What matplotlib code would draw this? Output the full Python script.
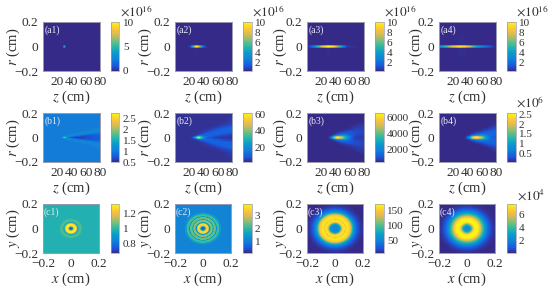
import matplotlib
matplotlib.use('Agg')

import numpy as np
import matplotlib.pyplot as plt
from matplotlib.cm import ScalarMappable
from matplotlib.colors import LinearSegmentedColormap, Normalize

plt.rcParams['font.family'] = ['Liberation Serif', 'DejaVu Serif']
plt.rcParams['mathtext.fontset'] = 'stix'

# a row: on-axis nodes, values in units of 1e16
a1_z = [0, 28.8, 30, 31.2, 80]
a1_r = [0, .005, .011, .2]
a1_v = [[0, 0, 4.5, 0, 0],
        [0, 0, 2.5, 0, 0],
        [0, 0, 0, 0, 0],
        [0, 0, 0, 0, 0]]

a2_z = [0, 18, 22, 26, 30, 34, 38, 42, 46, 80]
a2_r = [0, .004, .008, .012, .2]
a2_v = [[.3, .3, 1, 5, 9.8, 7, 3, .8, .3, .3],
        [.3, .3, .8, 3.5, 6.5, 4.5, 2, .6, .3, .3],
        [.3, .3, .4, 1, 1.8, 1.3, .7, .3, .3, .3],
        [.3, .3, .3, .3, .4, .3, .3, .3, .3, .3],
        [.3, .3, .3, .3, .3, .3, .3, .3, .3, .3]]

a3_z = [0, 3, 10, 16, 22, 30, 38, 44, 50, 56, 80]
a3_r = [0, .004, .008, .012, .2]
a3_v = [[.3, .6, 2.5, 5, 8, 10, 9, 6, 3, .6, .3],
        [.3, .5, 1.8, 3.5, 5.5, 7, 6, 4, 2, .5, .3],
        [.3, .3, .6, 1, 1.6, 2, 1.7, 1.1, .6, .3, .3],
        [.3, .3, .3, .3, .3, .4, .3, .3, .3, .3, .3],
        [.3, .3, .3, .3, .3, .3, .3, .3, .3, .3, .3]]

a4_z = [0, 6, 12, 20, 28, 36, 44, 52, 60, 70, 78, 80]
a4_r = [0, .004, .008, .012, .2]
a4_v = [[3, 4, 6, 8, 9.5, 9, 7, 4, 2.5, 1.5, .5, .3],
        [2, 2.8, 4, 5.6, 6.6, 6.2, 4.8, 2.8, 1.8, 1, .4, .3],
        [.6, .8, 1.2, 1.6, 1.9, 1.8, 1.4, .9, .6, .4, .3, .3],
        [.3, .3, .3, .3, .4, .4, .3, .3, .3, .3, .3, .3],
        [.3, .3, .3, .3, .3, .3, .3, .3, .3, .3, .3, .3]]

# b row
b1_z = [0, 27, 30, 32, 36, 45, 55, 65, 80]
b1_r = [0, .004, .008, .014, .02, .03, .04, .05, .065, .08, .2]
b1_v = [[1, 1, 1.9, 1.5, .75, .6, .6, .7, .8],
        [1, 1, 1.4, 1.3, .85, .62, .6, .7, .8],
        [1, 1, 1.05, 1.25, 1, .7, .62, .7, .8],
        [1, 1, 1, 1.05, 1.2, .85, .68, .72, .8],
        [1, 1, 1, 1, 1.1, 1.1, .8, .75, .8],
        [1, 1, 1, 1, 1, 1.1, 1.15, .9, .85],
        [1, 1, 1, 1, 1, 1, 1.1, 1.15, .95],
        [1, 1, 1, 1, 1, 1, 1, 1.1, 1.1],
        [1, 1, 1, 1, 1, 1, 1, 1, 1.2],
        [1, 1, 1, 1, 1, 1, 1, 1, 1.05],
        [1, 1, 1, 1, 1, 1, 1, 1, 1]]

b2_z = [0, 22, 26, 30, 33, 36, 40, 46, 54, 64, 80]
b2_r = [0, .005, .01, .016, .024, .035, .05, .07, .09, .12, .2]
b2_v = [[3, 3, 8, 30, 58, 38, 18, 8, 5, 4, 3],
        [3, 3, 5, 18, 35, 28, 16, 9, 6, 4, 3],
        [3, 3, 3, 7, 16, 18, 13, 10, 7, 5, 4],
        [3, 3, 3, 4, 7, 10, 10, 10, 8, 6, 4],
        [3, 3, 3, 3, 4, 6, 8, 11, 10, 7, 5],
        [3, 3, 3, 3, 3, 4, 5, 8, 11, 10, 7],
        [3, 3, 3, 3, 3, 3, 4, 5, 8, 11, 10],
        [3, 3, 3, 3, 3, 3, 3, 4, 5, 8, 12],
        [3, 3, 3, 3, 3, 3, 3, 3, 3, 5, 8],
        [3, 3, 3, 3, 3, 3, 3, 3, 3, 3, 5],
        [3, 3, 3, 3, 3, 3, 3, 3, 3, 3, 3]]

b3_z = [0, 30, 34, 38, 43, 48, 54, 60, 66, 72, 80]
b3_r = [0, .006, .012, .02, .03, .045, .06, .08, .1, .13, .2]
b3_v = [[400, 400, 1200, 4000, 6300, 5000, 3000, 1500, 700, 600, 600],
        [400, 400, 800, 2800, 4800, 4200, 2800, 1400, 750, 650, 600],
        [400, 400, 500, 1200, 2600, 2800, 2300, 1300, 800, 700, 650],
        [400, 400, 400, 600, 1300, 1700, 1700, 1200, 850, 750, 700],
        [400, 400, 400, 450, 700, 1000, 1200, 1100, 900, 800, 750],
        [400, 400, 400, 400, 450, 600, 800, 950, 900, 850, 800],
        [400, 400, 400, 400, 400, 400, 500, 600, 750, 800, 800],
        [400, 400, 400, 400, 400, 400, 400, 450, 550, 650, 750],
        [400, 400, 400, 400, 400, 400, 400, 400, 450, 550, 650],
        [400, 400, 400, 400, 400, 400, 400, 400, 400, 400, 450],
        [400, 400, 400, 400, 400, 400, 400, 400, 400, 400, 400]]

b4_z = [0, 34, 38, 43, 48, 53, 59, 65, 71, 76, 80]
b4_r = [0, .006, .012, .02, .03, .045, .06, .08, .1, .13, .2]
b4_v = [[.03, .03, .1, .8, 2.2, 2.55, 1.9, 1, .4, .3, .3],
        [.03, .03, .07, .5, 1.6, 2, 1.6, .9, .42, .32, .3],
        [.03, .03, .04, .2, .8, 1.1, 1.05, .75, .45, .35, .32],
        [.03, .03, .03, .08, .35, .55, .65, .6, .42, .38, .35],
        [.03, .03, .03, .03, .12, .25, .38, .45, .42, .4, .38],
        [.03, .03, .03, .03, .03, .08, .16, .28, .35, .38, .38],
        [.03, .03, .03, .03, .03, .03, .06, .12, .2, .26, .3],
        [.03, .03, .03, .03, .03, .03, .03, .04, .08, .14, .2],
        [.03, .03, .03, .03, .03, .03, .03, .03, .04, .06, .1],
        [.03, .03, .03, .03, .03, .03, .03, .03, .03, .03, .04],
        [.03, .03, .03, .03, .03, .03, .03, .03, .03, .03, .03]]

# c row: radial profiles
c1_r = [0, .008, .016, .024, .03, .036, .042, .05, .058, .066, .08, .29]
c1_v = [.72, .74, .9, 1.22, 1.3, 1.2, 1, .88, .98, 1.04, .98, .98]

c2_r = [0, .01, .018, .026, .032, .038, .044, .05, .056, .062, .068, .074, .08,
        .086, .092, .098, .104, .11, .116, .122, .13, .29]
c2_v = [.5, .6, 1.2, 3, 3.6, 2.8, 1, .6, 2, 2.6, 1.6, .8, 2.1,
        2.4, 1.2, .9, 2, 2.2, 1.1, 1.6, 1.1, 1.1]

c3_r = [0, .02, .035, .045, .055, .065, .072, .08, .09, .105, .115, .125, .14, .16, .18, .2, .29]
c3_v = [52, 52, 60, 90, 145, 160, 105, 155, 160, 145, 110, 75, 45, 22, 12, 8, 7]

c4_r = [0, .015, .03, .04, .05, .06, .07, .08, .09, .1, .12, .14, .16, .18, .2, .29]
c4_v = [2.2, 2.3, 3.2, 4.6, 6.5, 7.4, 7.4, 7, 6.2, 5, 3.2, 1.8, .9, .45, .25, .2]

cbar_ticks = {
    'a1': [0, 5, 10], 'a2': [2, 4, 6, 8, 10], 'a3': [2, 4, 6, 8, 10], 'a4': [2, 4, 6, 8, 10],
    'b1': [.5, 1, 1.5, 2, 2.5], 'b2': [20, 40, 60], 'b3': [2000, 4000, 6000], 'b4': [.5, 1, 1.5, 2, 2.5],
    'c1': [.8, 1, 1.2], 'c2': [1, 2, 3], 'c3': [50, 100, 150], 'c4': [2, 4, 6],
}
cbar_range = {
    'a1': (0, 10), 'a2': (.3, 10), 'a3': (.3, 10), 'a4': (.3, 10),
    'b1': (.5, 2.77), 'b2': (2, 62), 'b3': (400, 6500), 'b4': (.03, 2.6),
    'c1': (.68, 1.32), 'c2': (.15, 3.9), 'c3': (7, 170), 'c4': (.2, 7.5),
}
multipliers = {
    'a1': (120, 17, '16'), 'a2': (252, 17, '16'), 'a3': (384, 17, '16'), 'a4': (516, 17, '16'),
    'b4': (516, 108, '6'), 'c4': (517, 200, '4'),
}

parula = LinearSegmentedColormap.from_list('parula', [
    (0, (.208, .166, .529)), (.1, (.12, .33, .86)), (.16, (.05, .42, .88)),
    (.24, (.08, .50, .84)), (.37, (.03, .61, .81)), (.5, (.17, .72, .65)),
    (.63, (.5, .75, .47)), (.75, (.85, .73, .33)), (.87, (.99, .78, .22)),
    (1, (.976, .983, .054))])

W, H = 550., 290.
text_color = '#303030'
edge_color = '#9a9ab0'
col_x = {'1': 43, '2': 175, '3': 307, '4': 439}
cbar_x = {'1': 111, '2': 243, '3': 375, '4': 507}
row_y = {'a': (22, 71), 'b': (113, 162), 'c': (204, 253)}
ylabel_x = {'1': 13, '2': 145, '3': 280, '4': 416}


def px_axes(fig, x0, y0, x1, y1):
    return fig.add_axes([x0 / W, 1 - y1 / H, (x1 - x0) / W, (y1 - y0) / H])


def mirror(r, table):
    r = np.array(r)
    table = np.array(table)
    return np.r_[-r[::-1], r[1:]], np.vstack([table[::-1], table[1:]])


def radial(r, v):
    theta = np.radians(np.arange(0, 361, 3))
    rr, tt = np.meshgrid(r, theta)
    return rr * np.cos(tt), rr * np.sin(tt), np.tile(v, (len(theta), 1))


fig = plt.figure(figsize=(W / 100, H / 100), dpi=100)

panels = {
    'a1': (a1_z, a1_r, a1_v), 'a2': (a2_z, a2_r, a2_v), 'a3': (a3_z, a3_r, a3_v), 'a4': (a4_z, a4_r, a4_v),
    'b1': (b1_z, b1_r, b1_v), 'b2': (b2_z, b2_r, b2_v), 'b3': (b3_z, b3_r, b3_v), 'b4': (b4_z, b4_r, b4_v),
    'c1': (c1_r, c1_v), 'c2': (c2_r, c2_v), 'c3': (c3_r, c3_v), 'c4': (c4_r, c4_v),
}

for name, data in panels.items():
    row, col = name[0], name[1]
    y0, y1 = row_y[row]
    x0 = col_x[col]
    ax = px_axes(fig, x0, y0, x0 + (56 if row == 'c' else 57), y1)
    vmin, vmax = cbar_range[name]
    levels = np.linspace(vmin, vmax, 160)

    if row == 'c':
        X, Y, Z = radial(*data)
        ax.contourf(X, Y, Z, levels=levels, cmap=parula, extend='both')
        ax.set_xlim(-.2, .2)
        ax.set_xticks([-.2, 0, .2])
        ax.set_xticklabels([u'\u22120.2', '0', '0.2'])
        xlabel, ylabel = r'$x$ (cm)', r'$y$ (cm)'
    else:
        r, Z = mirror(data[1], data[2])
        ax.contourf(data[0], r, Z, levels=levels, cmap=parula, extend='both')
        ax.set_xlim(0, 80)
        ax.set_xticks([20, 40, 60, 80])
        xlabel, ylabel = r'$z$ (cm)', r'$r$ (cm)'

    ax.set_ylim(-.2, .2)
    ax.set_yticks([-.2, 0, .2])
    ax.set_yticklabels([u'\u22120.2', '0', '0.2'])
    ax.tick_params(length=0, labelsize=9.6, colors=text_color, pad=3.5)
    for s in ax.spines.values():
        s.set_color(edge_color)
        s.set_linewidth(.7)

    fig.text((x0 + 28) / W, 1 - (y1 + 26) / H, xlabel, ha='center', va='center', fontsize=10.5, color=text_color)
    fig.text(ylabel_x[col] / W, 1 - (y0 + y1) / 2. / H, ylabel, ha='center', va='center',
             rotation=90, fontsize=10.5, color=text_color)
    ax.text(.02, .93, '(%s)' % name, transform=ax.transAxes, ha='left', va='top', fontsize=7, color='#e8e8f0')

    cax = px_axes(fig, cbar_x[col], y0, cbar_x[col] + 8.5, y1)
    cb = fig.colorbar(ScalarMappable(Normalize(vmin, vmax), parula), cax=cax)
    cb.set_ticks(cbar_ticks[name])
    cb.set_ticklabels(['%g' % t for t in cbar_ticks[name]])
    cb.ax.tick_params(length=0, labelsize=8, colors=text_color, pad=2.5)
    cb.outline.set_edgecolor(edge_color)
    cb.outline.set_linewidth(.5)

    if name in multipliers:
        mx, my, power = multipliers[name]
        fig.text(mx / W, 1 - my / H, r'$\times 10^{%s}$' % power, ha='left', va='baseline',
                 fontsize=9.5, color=text_color)

plt.savefig('out.png', dpi=100)
plt.close()
